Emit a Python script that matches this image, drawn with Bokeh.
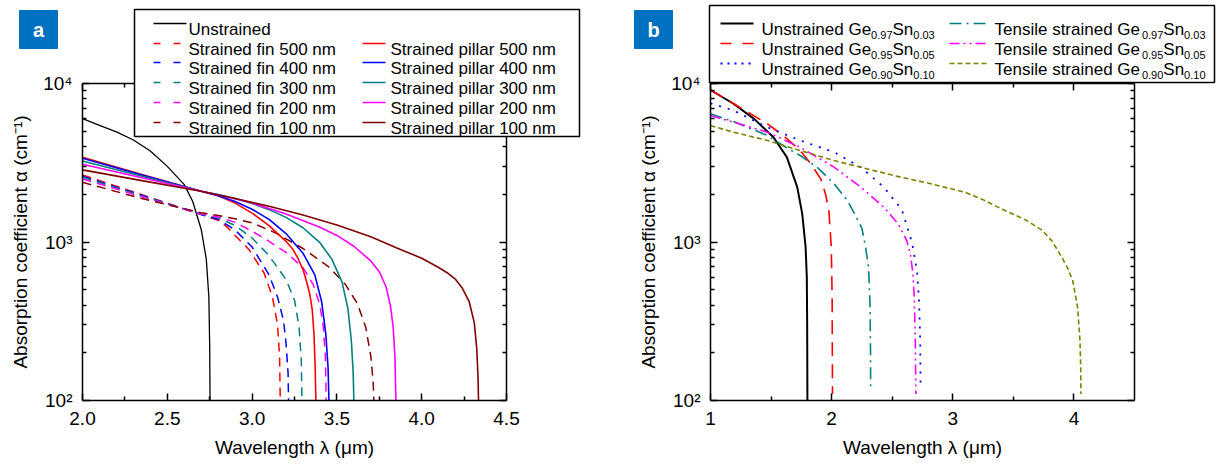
from bokeh.plotting import figure
from bokeh.models import (FixedTicker, LinearAxis, LogAxis, Range1d)
from bokeh.core.properties import value
from bokeh.layouts import row, column
from bokeh.embed import file_html
from bokeh.resources import INLINE

FONT = "Liberation Sans"

# ---------------- Panel a data ----------------
lam_unstrained = [2.0, 2.1, 2.2, 2.3, 2.4, 2.5, 2.6, 2.65, 2.7, 2.73, 2.745, 2.75, 2.752]
alpha_unstrained = [6000, 5450, 4950, 4400, 3750, 3000, 2300, 1800, 1200, 780, 450, 220, 100]

lam_fin500 = [2.0, 2.35, 2.7, 2.8, 2.85, 2.9, 2.98, 3.07, 3.12, 3.15, 3.162, 3.166]
alpha_fin500 = [2650, 1990, 1490, 1370, 1250, 1100, 900, 640, 450, 300, 190, 100]
lam_fin400 = [2.0, 2.35, 2.7, 2.8, 2.9, 3.0, 3.1, 3.15, 3.185, 3.2, 3.212, 3.215]
alpha_fin400 = [2600, 1970, 1490, 1390, 1190, 930, 620, 450, 320, 230, 150, 100]
lam_fin300 = [2.0, 2.35, 2.7, 2.8, 2.9, 3.0, 3.1, 3.2, 3.25, 3.277, 3.29, 3.294]
alpha_fin300 = [2560, 1950, 1500, 1420, 1270, 1060, 820, 580, 430, 290, 180, 100]
lam_fin200 = [2.0, 2.35, 2.7, 2.8, 2.9, 3.0, 3.1, 3.2, 3.3, 3.36, 3.4, 3.42, 3.432, 3.437]
alpha_fin200 = [2500, 1930, 1500, 1440, 1330, 1170, 1010, 860, 690, 540, 400, 290, 190, 100]
lam_fin100 = [2.0, 2.35, 2.7, 2.8, 2.9, 3.0, 3.14, 3.3, 3.45, 3.55, 3.62, 3.67, 3.7, 3.714, 3.718]
alpha_fin100 = [2380, 1880, 1530, 1470, 1400, 1320, 1140, 910, 700, 540, 410, 290, 190, 130, 100]

lam_pil500 = [2.0, 2.35, 2.7, 2.8, 2.9, 3.0, 3.1, 3.2, 3.24, 3.27, 3.3, 3.32, 3.34, 3.355, 3.365, 3.372, 3.376]
alpha_pil500 = [3420, 2670, 2090, 1960, 1760, 1520, 1270, 1010, 900, 790, 670, 570, 470, 370, 260, 160, 100]
lam_pil400 = [2.0, 2.35, 2.7, 2.8, 2.9, 3.0, 3.1, 3.2, 3.3, 3.37, 3.41, 3.435, 3.448, 3.453]
alpha_pil400 = [3380, 2650, 2090, 1960, 1800, 1610, 1390, 1130, 850, 620, 420, 260, 160, 100]
lam_pil300 = [2.0, 2.35, 2.7, 2.8, 2.9, 3.0, 3.1, 3.2, 3.3, 3.4, 3.47, 3.53, 3.565, 3.585, 3.596, 3.6]
alpha_pil300 = [3240, 2600, 2090, 1990, 1880, 1750, 1600, 1430, 1230, 990, 780, 560, 380, 240, 150, 100]
lam_pil200 = [2.0, 2.35, 2.7, 2.85, 3.0, 3.2, 3.4, 3.5, 3.6, 3.7, 3.75, 3.79, 3.815, 3.832, 3.842, 3.848]
alpha_pil200 = [3090, 2540, 2090, 1930, 1760, 1500, 1240, 1100, 940, 760, 650, 520, 400, 290, 190, 100]
lam_pil100 = [2.0, 2.35, 2.7, 2.9, 3.1, 3.3, 3.5, 3.7, 3.85, 4.0, 4.1, 4.15, 4.2, 4.24, 4.28, 4.31, 4.325, 4.332, 4.335]
alpha_pil100 = [2850, 2440, 2090, 1880, 1680, 1480, 1280, 1080, 920, 790, 690, 640, 580, 510, 420, 310, 210, 140, 100]

xticks_a = [2.0, 2.5, 3.0, 3.5, 4.0, 4.5]
xminor_a = [2.25, 2.75, 3.25, 3.75, 4.25]
xlabels_a = ["2.0", "2.5", "3.0", "3.5", "4.0", "4.5"]

# ---------------- Panel b data ----------------
lam_u03 = [1.0, 1.19, 1.36, 1.52, 1.63, 1.716, 1.757, 1.785, 1.795, 1.798, 1.8]
alpha_u03 = [9100, 7450, 5980, 4580, 3430, 2220, 1510, 930, 600, 300, 100]
lam_u05 = [1.0, 1.2, 1.33, 1.47, 1.6, 1.74, 1.83, 1.91, 1.95, 1.977, 1.997, 2.004, 2.007]
alpha_u05 = [9100, 7400, 6440, 5570, 4700, 3780, 3100, 2500, 2000, 1580, 930, 450, 110]
lam_u10 = [1.0, 1.19, 1.47, 1.74, 2.02, 2.24, 2.43, 2.58, 2.665, 2.705, 2.722, 2.731, 2.734]
alpha_u10 = [7500, 6760, 5300, 4370, 3690, 2965, 2220, 1600, 980, 650, 420, 240, 120]
lam_t03 = [1.0, 1.19, 1.47, 1.6, 1.74, 1.88, 2.02, 2.13, 2.2, 2.25, 2.28, 2.305, 2.317, 2.321, 2.322]
alpha_t03 = [6440, 5750, 4700, 4050, 3515, 2965, 2330, 1830, 1450, 1220, 930, 690, 400, 200, 115]
lam_t05 = [1.0, 1.19, 1.47, 1.74, 2.02, 2.24, 2.43, 2.55, 2.62, 2.65, 2.67, 2.682, 2.69, 2.695]
alpha_t05 = [6280, 5700, 4930, 3960, 2965, 2220, 1660, 1300, 1020, 840, 640, 450, 260, 110]
lam_t10 = [1.0, 1.19, 1.47, 1.74, 2.02, 2.29, 2.57, 2.8, 3.1, 3.25, 3.4, 3.6, 3.74, 3.82, 3.9, 3.95, 3.99, 4.03, 4.05, 4.056, 4.058]
alpha_t10 = [5430, 4930, 4370, 3775, 3265, 2895, 2566, 2350, 2060, 1850, 1620, 1380, 1183, 1010, 802, 680, 571, 388, 239, 160, 110]

xticks_b = [1, 2, 3, 4]
xminor_b = [1.5, 2.5, 3.5]
xlabels_b = ["1", "2", "3", "4"]

yticks = [100, 1000, 10000]
yminor = [200, 300, 400, 500, 600, 700, 800, 900, 2000, 3000, 4000, 5000, 6000, 7000, 8000, 9000]
ylabels = ["10\u00b2", "10\u00b3", "10\u2074"]

XLABEL = "Wavelength \u03bb (\u03bcm)"
YLABEL = "Absorption coefficient \u03b1 (cm\u207b\u00b9)"

labels_a_col1 = ["Unstrained", "Strained fin 500 nm", "Strained fin 400 nm", "Strained fin 300 nm",
                 "Strained fin 200 nm", "Strained fin 100 nm"]
labels_a_col2 = ["Strained pillar 500 nm", "Strained pillar 400 nm", "Strained pillar 300 nm",
                 "Strained pillar 200 nm", "Strained pillar 100 nm"]
# legend of panel b: (prefix, Ge fraction, Sn fraction)
labels_b = [("Unstrained Ge", "0.97", "0.03"),
            ("Unstrained Ge", "0.95", "0.05"),
            ("Unstrained Ge", "0.90", "0.10"),
            ("Tensile strained Ge", "0.97", "0.03"),
            ("Tensile strained Ge", "0.95", "0.05"),
            ("Tensile strained Ge", "0.90", "0.10")]

size_colors = ["#FF0000", "#0000FF", "#008080", "#FF00FF", "#800000"]
FIN_DASH = "9 6"
b_colors = ["black", "#FF0000", "#0000FF", "#008080", "#FF00FF", "#808000"]
b_dashes = ["solid", "14 8", "2 7", "12 5 2 5", "10 4 2 4 2 4", "5 3"]
b_sample_dashes = ["solid", "11 11", "2 5", "12 5 2 5", "10 4 2 4 2 4", "5 3"]
b_widths = [2.0, 1.6, 1.8, 1.6, 1.6, 1.6]

# Arial / Liberation Sans advance widths (per 1000 em) for placing sub-scripts
ADV = {'U': 722, 'n': 556, 's': 500, 't': 278, 'r': 333, 'a': 556, 'i': 222, 'e': 556,
       'd': 556, ' ': 278, 'G': 778, 'S': 667, 'T': 611, 'l': 222, '.': 278}
for _d in "0123456789":
    ADV[_d] = 556


def text_width(s, size):
    return sum(ADV.get(c, 556) for c in s) * size / 1000.0


def style_axis(ax):
    ax.axis_line_width = 1.5
    ax.axis_line_color = "black"
    ax.major_tick_in = 7
    ax.major_tick_out = 0
    ax.minor_tick_in = 4
    ax.minor_tick_out = 0
    ax.major_tick_line_width = 1.5
    ax.minor_tick_line_width = 1.5
    ax.major_tick_line_color = "black"
    ax.minor_tick_line_color = "black"
    ax.major_label_text_font = FONT
    ax.major_label_text_color = "black"
    ax.major_label_text_font_size = "19px"
    ax.axis_label_text_font = FONT
    ax.axis_label_text_font_style = "normal"
    ax.axis_label_text_font_size = "19px"
    ax.axis_label_text_color = "black"


def make_fig(width, xr, xt, xm, xl, bl, br):
    p = figure(width=width, height=464, x_range=Range1d(*xr), y_range=Range1d(100, 10000),
               y_axis_type="log", output_backend="svg", toolbar_location=None,
               min_border_left=bl, min_border_right=br, min_border_top=83, min_border_bottom=64)
    p.grid.visible = False
    p.outline_line_color = None
    p.background_fill_color = "white"
    p.border_fill_color = "white"
    xa = p.xaxis[0]
    xa.ticker = FixedTicker(ticks=xt, minor_ticks=xm)
    xa.major_label_overrides = {t: l for t, l in zip(xt, xl)}
    xa.axis_label = XLABEL
    style_axis(xa)
    xa.major_label_standoff = 11
    xa.axis_label_standoff = 9
    ya = p.yaxis[0]
    ya.ticker = FixedTicker(ticks=yticks, minor_ticks=yminor)
    ya.major_label_overrides = {t: l for t, l in zip(yticks, ylabels)}
    ya.axis_label = YLABEL
    style_axis(ya)
    ya.major_label_standoff = 10
    ya.axis_label_standoff = 9
    top = LinearAxis(ticker=FixedTicker(ticks=xt, minor_ticks=xm))
    style_axis(top)
    top.major_label_overrides = {t: "" for t in xt}
    top.major_label_standoff = 0
    p.add_layout(top, "above")
    right = LogAxis(ticker=FixedTicker(ticks=yticks, minor_ticks=yminor))
    style_axis(right)
    right.major_label_overrides = {t: "" for t in yticks}
    right.major_label_standoff = 0
    p.add_layout(right, "right")
    return p


# ---------------- Panel a ----------------
p1 = make_fig(628, (2.0, 4.5), xticks_a, xminor_a, xlabels_a, 82, 122)
p1.line(lam_unstrained, alpha_unstrained, line_color="black", line_width=1.3)
fins = [(lam_fin500, alpha_fin500), (lam_fin400, alpha_fin400), (lam_fin300, alpha_fin300),
        (lam_fin200, alpha_fin200), (lam_fin100, alpha_fin100)]
pils = [(lam_pil500, alpha_pil500), (lam_pil400, alpha_pil400), (lam_pil300, alpha_pil300),
        (lam_pil200, alpha_pil200), (lam_pil100, alpha_pil100)]
for (x, y), c in zip(fins, size_colors):
    p1.line(x, y, line_color=c, line_width=1.5, line_dash=FIN_DASH)
for (x, y), c in zip(pils, size_colors):
    p1.line(x, y, line_color=c, line_width=1.6)

# ---------------- Panel b ----------------
p2 = make_fig(590, (1.0, 4.5), xticks_b, xminor_b, xlabels_b, 82, 84)
b_series = [(lam_u03, alpha_u03), (lam_u05, alpha_u05), (lam_u10, alpha_u10),
            (lam_t03, alpha_t03), (lam_t05, alpha_t05), (lam_t10, alpha_t10)]
for (x, y), c, d, w in zip(b_series, b_colors, b_dashes, b_widths):
    p2.line(x, y, line_color=c, line_width=w, line_dash=d)

# ---------------- Overlay: legend boxes and panel tags (page pixel space) ----------------
ov = figure(width=1218, height=464, x_range=Range1d(0, 1218), y_range=Range1d(464, 0),
            x_axis_location=None, y_axis_location=None, toolbar_location=None,
            output_backend="svg", min_border=0, min_border_left=0, min_border_right=0,
            min_border_top=0, min_border_bottom=0)
ov.title.visible = False
ov.grid.visible = False
ov.outline_line_color = None
ov.background_fill_alpha = 0
ov.border_fill_alpha = 0
ov.margin = (-464, 0, 0, 0)

TXT = dict(text_font=value(FONT), text_color="black", text_align="left", text_baseline="alphabetic")

# panel tags
for letter, x0 in (("a", 19), ("b", 634)):
    ov.quad(left=[x0], right=[x0 + 38], top=[10], bottom=[48], fill_color="#0070C0",
            line_color="#0070C0")
    ov.text(x=[x0 + 19], y=[29], text=[letter], text_font=value(FONT), text_font_size="20px",
            text_font_style="bold", text_color="white", text_align="center", text_baseline="middle")

# legend box a
ov.quad(left=[134], right=[579], top=[9], bottom=[136], fill_color="white",
        line_color="black", line_width=1.5)
rows_a = [23, 43, 62, 82, 102, 122]
ov.segment(x0=[153], y0=[rows_a[0]], x1=[186], y1=[rows_a[0]], line_color="black", line_width=1.3)
ov.text(x=[188], y=[rows_a[0] + 6], text=[labels_a_col1[0]], text_font_size="17px", **TXT)
for i, c in enumerate(size_colors):
    yy = rows_a[i + 1]
    ov.segment(x0=[153], y0=[yy], x1=[180], y1=[yy], line_color=c, line_width=1.5, line_dash="7 13")
    ov.text(x=[188], y=[yy + 6], text=[labels_a_col1[i + 1]], text_font_size="17px", **TXT)
    ov.segment(x0=[362], y0=[yy], x1=[385], y1=[yy], line_color=c, line_width=1.6)
    ov.text(x=[390], y=[yy + 6], text=[labels_a_col2[i]], text_font_size="17px", **TXT)

# legend box b
ov.quad(left=[709], right=[1214], top=[5], bottom=[82], fill_color="white",
        line_color="black", line_width=1.5)
rows_b = [23, 43, 63]
cols_b = [(720, 753, 761), (949, 987, 994)]
for k, (pre, ge, sn) in enumerate(labels_b):
    col = cols_b[k // 3]
    yy = rows_b[k % 3]
    ov.segment(x0=[col[0]], y0=[yy], x1=[col[1]], y1=[yy], line_color=b_colors[k],
               line_width=b_widths[k], line_dash=b_sample_dashes[k])
    x = col[2]
    base = yy + 6
    ov.text(x=[x], y=[base], text=[pre], text_font_size="17px", **TXT)
    x += text_width(pre, 17)
    ov.text(x=[x], y=[base + 5], text=[ge], text_font_size="11px", **TXT)
    x += text_width(ge, 11)
    ov.text(x=[x], y=[base], text=["Sn"], text_font_size="17px", **TXT)
    x += text_width("Sn", 17)
    ov.text(x=[x], y=[base + 5], text=[sn], text_font_size="11px", **TXT)

layout = column(row(p1, p2, spacing=0), ov, spacing=0)
open("out.html", "w").write(file_html(layout, INLINE))
